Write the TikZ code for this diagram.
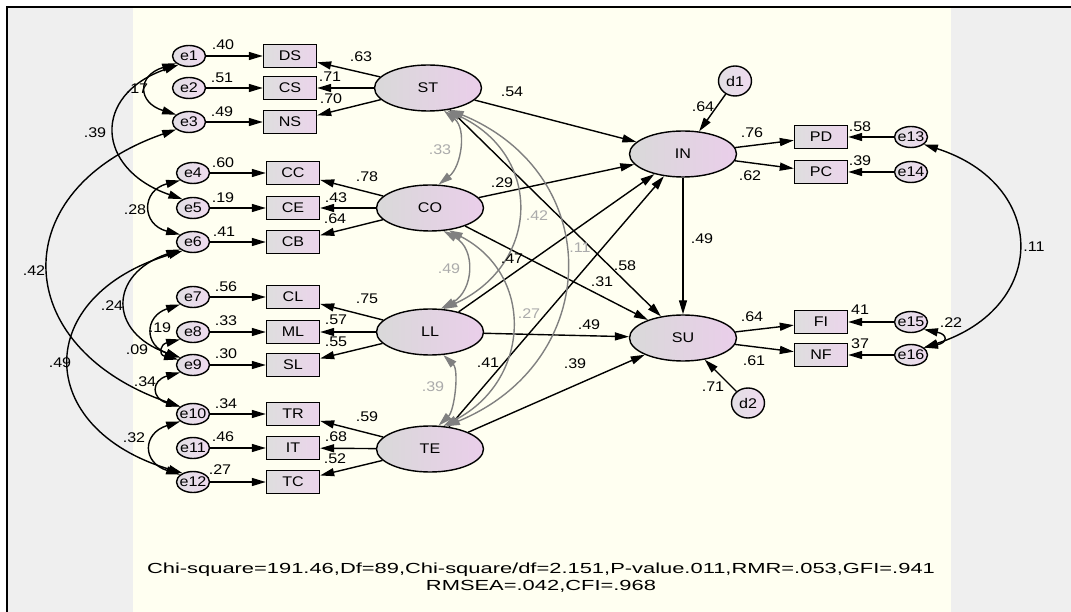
\documentclass[tikz,border=0pt]{standalone}
\usepackage{fontspec}
\setmainfont{Liberation Sans}[FakeStretch=1.15]
\newfontfamily\statfont{Liberation Sans}[FakeStretch=1.5]
\usepackage{tikz}
\usetikzlibrary{arrows.meta, shapes.geometric}
\definecolor{amoscream}{HTML}{FFFFF1}
\definecolor{amosgray}{HTML}{EFEFEF}
\definecolor{boxleft}{HTML}{DEDEDE}
\definecolor{boxright}{HTML}{EBD4EB}
\definecolor{latleft}{HTML}{D9D9D9}
\definecolor{latright}{HTML}{EACEEA}
\definecolor{errleft}{HTML}{E2DFE4}
\definecolor{errright}{HTML}{EFDAEF}
\definecolor{covgray}{HTML}{808080}
\definecolor{lblgray}{HTML}{ABABAB}

\begin{document}
\begin{tikzpicture}[x=1pt, y=-1pt,
    font=\fontsize{14}{16}\selectfont,
    obs/.style={draw, line width=1.4pt, left color=boxleft, right color=boxright,
                minimum width=53pt, minimum height=23pt, inner sep=0pt},
    lat/.style={ellipse, draw, line width=1.4pt, left color=latleft, right color=latright,
                minimum width=107pt, minimum height=46pt, inner sep=0pt},
    err/.style={ellipse, draw, line width=1.4pt, left color=errleft, right color=errright,
                minimum width=33pt, minimum height=21pt, inner xsep=-3pt, inner ysep=-1pt},
    dis/.style={ellipse, draw, line width=1.4pt, left color=errleft, right color=errright,
                minimum width=33pt, minimum height=30pt, inner sep=0pt},
    reg/.style={-{Triangle[length=14pt, width=8pt]}, line width=1.4pt},
    cov/.style={{Triangle[length=14pt, width=8pt]}-{Triangle[length=14pt, width=8pt]}, line width=1.4pt},
    gcov/.style={cov, covgray},
    lbl/.style={inner sep=0pt},
    glbl/.style={inner sep=0pt, text=lblgray},
]
    \useasboundingbox (0,0) rectangle (1071,612);
    \fill[white] (0,0) rectangle (1071,612);
    \fill[amosgray] (7,7) rectangle (1071,612);
    \fill[amoscream] (133,7) rectangle (951,612);
    \draw[line width=2pt] (7,612) -- (7,7) -- (1071,7);

    % === measurement part, left ===
    \node[err] (e1) at (189,56) {e1};
    \node[err] (e2) at (189,88) {e2};
    \node[err] (e3) at (189,122) {e3};
    \node[err] (e4) at (193,173) {e4};
    \node[err] (e5) at (193,208) {e5};
    \node[err] (e6) at (193,242) {e6};
    \node[err] (e7) at (193,297) {e7};
    \node[err] (e8) at (193,332) {e8};
    \node[err] (e9) at (193,365) {e9};
    \node[err] (e10) at (193,414) {e10};
    \node[err] (e11) at (193,448) {e11};
    \node[err] (e12) at (193,482) {e12};

    \node[obs] (DS) at (290,56) {DS};
    \node[obs] (CS) at (290,88) {CS};
    \node[obs] (NS) at (290,122) {NS};
    \node[obs] (CC) at (293,173) {CC};
    \node[obs] (CE) at (293,208) {CE};
    \node[obs] (CB) at (293,242) {CB};
    \node[obs] (CL) at (293,297) {CL};
    \node[obs] (ML) at (293,332) {ML};
    \node[obs] (SL) at (293,365) {SL};
    \node[obs] (TR) at (293,414) {TR};
    \node[obs] (IT) at (293,448) {IT};
    \node[obs] (TC) at (293,482) {TC};

    \node[lat] (ST) at (428,88) {ST};
    \node[lat] (CO) at (430,208) {CO};
    \node[lat] (LL) at (430,332) {LL};
    \node[lat] (TE) at (430,449) {TE};

    % === structural part, right ===
    \node[lat] (IN) at (683,154) {IN};
    \node[lat] (SU) at (683,338) {SU};
    \node[dis] (d1) at (735,81) {d1};
    \node[dis] (d2) at (748,403) {d2};

    \node[obs] (PD) at (821,137) {PD};
    \node[obs] (PC) at (821,172) {PC};
    \node[obs] (FI) at (821,322) {FI};
    \node[obs] (NF) at (821,355) {NF};
    \node[err] (e13) at (911,137) {e13};
    \node[err] (e14) at (911,172) {e14};
    \node[err] (e15) at (911,322) {e15};
    \node[err] (e16) at (911,355) {e16};

    % errors -> indicators
    \draw[reg] (e1) -- (DS);
    \draw[reg] (e2) -- (CS);
    \draw[reg] (e3) -- (NS);
    \draw[reg] (e4) -- (CC);
    \draw[reg] (e5) -- (CE);
    \draw[reg] (e6) -- (CB);
    \draw[reg] (e7) -- (CL);
    \draw[reg] (e8) -- (ML);
    \draw[reg] (e9) -- (SL);
    \draw[reg] (e10) -- (TR);
    \draw[reg] (e11) -- (IT);
    \draw[reg] (e12) -- (TC);
    \draw[reg] (e13) -- (PD);
    \draw[reg] (e14) -- (PC);
    \draw[reg] (e15) -- (FI);
    \draw[reg] (e16) -- (NF);

    % latents -> indicators
    \draw[reg] (ST) -- (DS);
    \draw[reg] (ST) -- (CS);
    \draw[reg] (ST) -- (NS);
    \draw[reg] (CO) -- (CC);
    \draw[reg] (CO) -- (CE);
    \draw[reg] (CO) -- (CB);
    \draw[reg] (LL) -- (CL);
    \draw[reg] (LL) -- (ML);
    \draw[reg] (LL) -- (SL);
    \draw[reg] (TE) -- (TR);
    \draw[reg] (TE) -- (IT);
    \draw[reg] (TE) -- (TC);
    \draw[reg] (IN) -- (PD);
    \draw[reg] (IN) -- (PC);
    \draw[reg] (SU) -- (FI);
    \draw[reg] (SU) -- (NF);

    % paths
    \draw[reg] (ST) -- (IN);
    \draw[reg] (CO) -- (IN);
    \draw[reg] (LL) -- (IN);
    \draw[reg] (TE) -- (IN);
    \draw[reg] (ST) -- (SU);
    \draw[reg] (CO) -- (SU);
    \draw[reg] (LL) -- (SU);
    \draw[reg] (TE) -- (SU);
    \draw[reg] (IN) -- (SU);
    \draw[reg] (d1) -- (IN);
    \draw[reg] (d2) -- (SU);

    % === covariances ===
    \draw[cov] (e1.210) .. controls +(-39,12) and +(-39,-12) .. (e3.150);
    \draw[cov] (e1.220) .. controls +(-87,30) and +(-87,-30) .. (e5.140);
    \draw[cov] (e3.210) .. controls +(-172,60) and +(-172,-60) .. (e10.150);
    \draw[cov] (e4.210) .. controls +(-39,10) and +(-39,-10) .. (e6.150);
    \draw[cov] (e6.210) .. controls +(-72,25) and +(-72,-25) .. (e9.150);
    \draw[cov] (e6.220) .. controls +(-150,45) and +(-150,-45) .. (e12.140);
    \draw[cov] (e7.210) .. controls +(-36,12) and +(-36,-12) .. (e9.150);
    \draw[cov] (e8.210) .. controls +(-20,5) and +(-20,-5) .. (e9.160);
    \draw[cov] (e9.210) .. controls +(-29,8) and +(-29,-8) .. (e10.150);
    \draw[cov] (e10.210) .. controls +(-38,12) and +(-38,-12) .. (e12.150);
    \draw[cov] (e13.330) .. controls +(125,40) and +(125,-40) .. (e16.30);
    \draw[cov] (e15.330) .. controls +(24,5) and +(24,-5) .. (e16.30);

    \draw[gcov] (ST.305) .. controls +(23,18) and +(23,-18) .. (CO.70);
    \draw[gcov] (ST.310) .. controls +(97,45) and +(97,-45) .. (LL.60);
    \draw[gcov] (ST.315) .. controls +(157,65) and +(157,-65) .. (TE.55);
    \draw[gcov] (CO.300) .. controls +(33,18) and +(33,-18) .. (LL.65);
    \draw[gcov] (CO.310) .. controls +(87,45) and +(87,-45) .. (TE.60);
    \draw[gcov] (LL.300) .. controls +(16,15) and +(16,-15) .. (TE.70);

    % === estimates ===
    \node[lbl] (r1) at (223,45) {.40};
    \node[lbl] (r2) at (222,78) {.51};
    \node[lbl] (r3) at (222,112) {.49};
    \node[lbl] (r4) at (223,163) {.60};
    \node[lbl] (r5) at (223,198) {.19};
    \node[lbl] (r6) at (224,232) {.41};
    \node[lbl] (r7) at (226,287) {.56};
    \node[lbl] (r8) at (226,321) {.33};
    \node[lbl] (r9) at (226,354) {.30};
    \node[lbl] (r10) at (226,404) {.34};
    \node[lbl] (r11) at (223,437) {.46};
    \node[lbl] (r12) at (220,470) {.27};

    \node[lbl] (w1) at (361,57) {.63};
    \node[lbl] (w2) at (330,77) {.71};
    \node[lbl] (w3) at (331,99) {.70};
    \node[lbl] (w4) at (367,177) {.78};
    \node[lbl] (w5) at (336,198) {.43};
    \node[lbl] (w6) at (335,219) {.64};
    \node[lbl] (w7) at (367,299) {.75};
    \node[lbl] (w8) at (336,320) {.57};
    \node[lbl] (w9) at (336,342) {.55};
    \node[lbl] (w10) at (367,417) {.59};
    \node[lbl] (w11) at (336,437) {.68};
    \node[lbl] (w12) at (335,459) {.52};

    \node[lbl] (c1) at (137,89) {.17};
    \node[lbl] (c2) at (95,133) {.39};
    \node[lbl] (c3) at (135,210) {.28};
    \node[lbl] (c4) at (34,271) {.42};
    \node[lbl] (c5) at (112,306) {.24};
    \node[lbl] (c6) at (160,328) {.19};
    \node[lbl] (c7) at (137,350) {.09};
    \node[lbl] (c8) at (60,363) {.49};
    \node[lbl] (c9) at (145,382) {.34};
    \node[lbl] (c10) at (134,438) {.32};

    \node[glbl] (g1) at (440,150) {.33};
    \node[glbl] (g2) at (537,216) {.42};
    \node[glbl] (g3) at (580,248) {.11};
    \node[glbl] (g4) at (449,269) {.49};
    \node[glbl] (g5) at (529,314) {.27};
    \node[glbl] (g6) at (433,387) {.39};

    \node[lbl] (b1) at (512,92) {.54};
    \node[lbl] (b2) at (502,183) {.29};
    \node[lbl] (b3) at (512,259) {.47};
    \node[lbl] (b4) at (488,363) {.41};
    \node[lbl] (b5) at (625,266) {.58};
    \node[lbl] (b6) at (602,282) {.31};
    \node[lbl] (b7) at (589,325) {.49};
    \node[lbl] (b8) at (575,364) {.39};
    \node[lbl] (b9) at (702,239) {.49};
    \node[lbl] (b10) at (703,107) {.64};
    \node[lbl] (b11) at (713,387) {.71};
    \node[lbl] (b12) at (752,133) {.76};
    \node[lbl] (b13) at (750,176) {.62};
    \node[lbl] (b14) at (752,317) {.64};
    \node[lbl] (b15) at (754,361) {.61};
    \node[lbl] (b16) at (860,127) {.58};
    \node[lbl] (b17) at (860,161) {.39};
    \node[lbl] (b18) at (860,310) {41};
    \node[lbl] (b19) at (860,344) {37};
    \node[lbl] (b20) at (951,323) {.22};
    \node[lbl] (b21) at (1034,247) {.11};

    % fit indices
    \node[align=center, inner sep=0pt, font=\statfont\fontsize{14.6}{17}\selectfont] (fit) at (541,578)
        {Chi-square=191.46,Df=89,Chi-square/df=2.151,P-value.011,RMR=.053,GFI=.941\\RMSEA=.042,CFI=.968};
\end{tikzpicture}
\end{document}
